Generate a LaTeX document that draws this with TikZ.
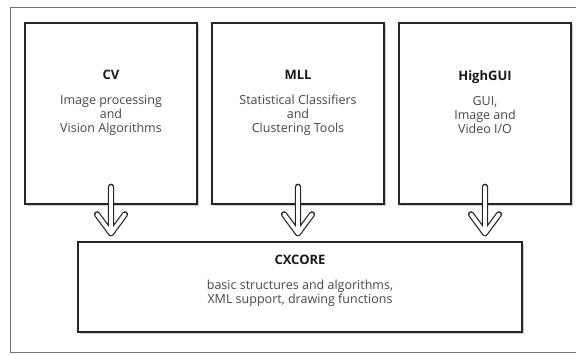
\documentclass[tikz,border=0pt]{standalone}
\usepackage{fontspec}
\setmainfont{Open Sans}
\usetikzlibrary{positioning,shadows}

\newcommand{\modname}[1]{{\fontsize{13}{14}\selectfont\bfseries\color{black!90}#1}}

\begin{document}
\begin{tikzpicture}[
    x=1pt, y=1pt,
    module/.style={rectangle, draw=black!85, line width=1.4pt, fill=white, minimum width=172pt, minimum height=181pt,
        drop shadow={shadow xshift=1.8pt, shadow yshift=-1.8pt, fill=black!40, opacity=0.5}},
    corebox/.style={module, minimum width=444pt, minimum height=90pt},
    modtext/.style={align=center, anchor=north, inner sep=0pt, text=black!72, font=\fontsize{12.5}{14}\selectfont},
    hollow/.style={draw=black!85, line width=1.2pt, double=white, double distance=3.8pt, line cap=round, line join=round,
        to path={(\tikztostart) -- (\tikztotarget) ++(-14,19) -- (\tikztotarget) -- ++(14,19)}}
]
\useasboundingbox (0,0) rectangle (576,354);

% Frame
\draw[black!55, line width=0.8pt] (10,2) rectangle (590,347);

% Modules
\node[module] (cv) at (111,240.5) {};
\node[module] (mll) at (298,240.5) {};
\node[module] (hgui) at (485,240.5) {};
\node[corebox] (core) at (300,67) {};

% Texts
\node[modtext] (cvtxt) at ([yshift=-48pt]cv.north) {\modname{CV}\\[11pt]Image processing\\and\\Vision Algorithms};
\node[modtext] (mlltxt) at ([yshift=-48pt]mll.north) {\modname{MLL}\\[11pt]Statistical Classifiers\\and\\Clustering Tools};
\node[modtext] (hguitxt) at ([yshift=-48pt]hgui.north) {\modname{HighGUI}\\[11pt]GUI,\\Image and\\Video I/O};
\node[modtext] (coretxt) at ([yshift=-14pt]core.north) {\modname{CXCORE}\\[11pt]basic structures and algorithms,\\XML support, drawing functions};

% Arrows
\coordinate (cvtip) at (cv.south |- core.north);
\coordinate (mlltip) at (mll.south |- core.north);
\coordinate (hguitip) at (hgui.south |- core.north);
\draw[hollow] ([yshift=18pt]cv.south) to ([yshift=8pt]cvtip);
\draw[hollow] ([yshift=18pt]mll.south) to ([yshift=8pt]mlltip);
\draw[hollow] ([yshift=18pt]hgui.south) to ([yshift=8pt]hguitip);

\end{tikzpicture}
\end{document}
